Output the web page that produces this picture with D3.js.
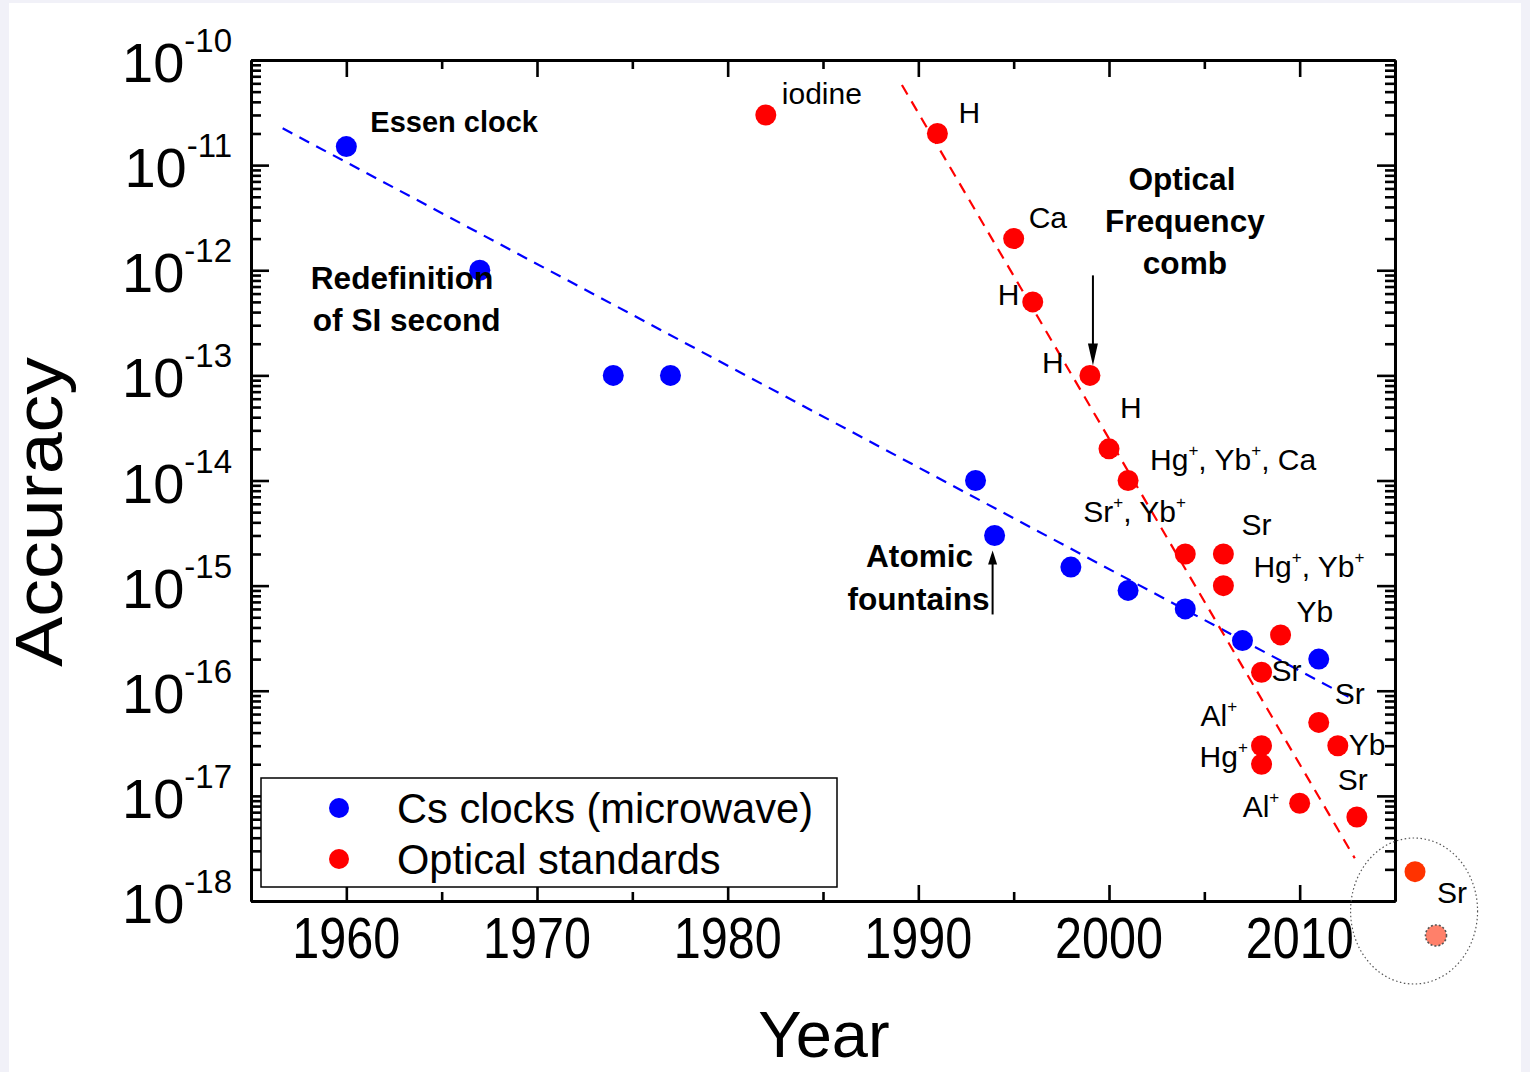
<!DOCTYPE html>
<html>
<head>
<meta charset="utf-8">
<script src="https://cdn.jsdelivr.net/npm/d3@7"></script>
<style>
  html, body { margin: 0; padding: 0; background: #f1f1f8; }
  svg { display: block; }
  text { font-family: "Liberation Sans", Arial, Helvetica, sans-serif; fill: #000; }
</style>
</head>
<body>
<svg id="chart" width="1530" height="1072"></svg>
<script>
// ---------------- DATA ----------------
const csYears = [1960, 1967, 1974, 1977, 1993, 1994, 1998, 2001, 2004, 2007, 2011];
const csAccuracy = [1.5e-11, 1e-12, 1e-13, 1e-13, 1e-14, 3e-15, 1.5e-15, 9e-16, 6e-16, 3e-16, 2e-16];

const opticalYears = [1982, 1991, 1995, 1996, 1999, 2000, 2001, 2004, 2006, 2006, 2009, 2008, 2011, 2012, 2008, 2008, 2010, 2013];
const opticalAccuracy = [3e-11, 2e-11, 2e-12, 5e-13, 1e-13, 2e-14, 1e-14, 2e-15, 2e-15, 1e-15, 3.4e-16, 1.5e-16, 5e-17, 3e-17, 3e-17, 2e-17, 8.5e-18, 6.3e-18];
const opticalLabels = ["iodine", "H", "Ca", "H", "H", "H", "Hg^+, Yb^+, Ca", "Sr^+, Yb^+", "Sr", "Hg^+, Yb^+", "Yb", "Sr", "Sr", "Yb", "Al^+", "Hg^+", "Al^+", "Sr"];

const newYears = [2016.05];
const newAccuracy = [1.9e-18];
const newLabels = ["Sr"];
const projectedYears = [2017.15];
const projectedAccuracy = [4.7e-19];

const csTrendYears = [1956.66, 2012.72];
const csTrendAccuracy = [2.24e-11, 8.45e-17];
const opticalTrendYears = [1989.14, 2012.89];
const opticalTrendAccuracy = [5.78e-11, 2.55e-18];

const xMajorTicks = [1960, 1970, 1980, 1990, 2000, 2010];
const xMinorTicks = [1965, 1975, 1985, 1995, 2005];
const yMajorExponents = [-10, -11, -12, -13, -14, -15, -16, -17, -18];

const legendNames = ["Cs clocks (microwave)", "Optical standards"];
const xTitle = "Year";
const yTitle = "Accuracy";

// ---------------- LAYOUT ----------------
const svg = d3.select("#chart");
const L = 251, R = 1395, T = 60, B = 901;
const blue = "#0000ff", red = "#ff0000";

svg.append("rect").attr("x", 9).attr("y", 3).attr("width", 1512).attr("height", 1069).attr("fill", "#fff");

const x = d3.scaleLinear().domain([1955, 2015]).range([L, R]);
const y = d3.scaleLog().domain([1e-18, 1e-10]).range([B, T]);

const yMajor = yMajorExponents.map(e => Math.pow(10, e));
const yMinor = [];
for (let e = -18; e < -10; e++) for (let m = 2; m <= 9; m++) yMinor.push(m * Math.pow(10, e));

function styleAxis(g) {
  g.selectAll("path.domain").attr("stroke", "#000").attr("stroke-width", 3);
  g.selectAll(".tick line").attr("stroke", "#000").attr("stroke-width", 2.6);
  g.selectAll(".tick text").remove();
}

// minor ticks
svg.append("g").attr("transform", `translate(${L},0)`)
  .call(d3.axisLeft(y).tickValues(yMinor).tickSize(-10).tickSizeOuter(0).tickFormat("")).call(styleAxis);
svg.append("g").attr("transform", `translate(${R},0)`)
  .call(d3.axisRight(y).tickValues(yMinor).tickSize(-10).tickSizeOuter(0).tickFormat("")).call(styleAxis);
svg.append("g").attr("transform", `translate(0,${B})`)
  .call(d3.axisBottom(x).tickValues(xMinorTicks).tickSize(-9).tickSizeOuter(0).tickFormat("")).call(styleAxis);
svg.append("g").attr("transform", `translate(0,${T})`)
  .call(d3.axisTop(x).tickValues(xMinorTicks).tickSize(-9).tickSizeOuter(0).tickFormat("")).call(styleAxis);
// major ticks
svg.append("g").attr("transform", `translate(${L},0)`)
  .call(d3.axisLeft(y).tickValues(yMajor).tickSize(-18).tickSizeOuter(0).tickFormat("")).call(styleAxis);
svg.append("g").attr("transform", `translate(${R},0)`)
  .call(d3.axisRight(y).tickValues(yMajor).tickSize(-18).tickSizeOuter(0).tickFormat("")).call(styleAxis);
svg.append("g").attr("transform", `translate(0,${B})`)
  .call(d3.axisBottom(x).tickValues(xMajorTicks).tickSize(-16).tickSizeOuter(0).tickFormat("")).call(styleAxis);
svg.append("g").attr("transform", `translate(0,${T})`)
  .call(d3.axisTop(x).tickValues(xMajorTicks).tickSize(-17).tickSizeOuter(0).tickFormat("")).call(styleAxis);

// y tick labels 10^e
const yl = svg.append("g").selectAll("text").data(yMajorExponents).join("text")
  .attr("x", 232).attr("y", e => y(Math.pow(10, e)) + 22)
  .attr("text-anchor", "end");
yl.append("tspan").attr("font-size", 56).text("10");
yl.append("tspan").attr("font-size", 33).attr("dy", -30).text(e => String(e));

// x tick labels
svg.append("g").selectAll("text").data(xMajorTicks).join("text")
  .attr("x", d => x(d)).attr("y", 958).attr("text-anchor", "middle")
  .attr("font-size", 57).attr("textLength", 108).attr("lengthAdjust", "spacingAndGlyphs")
  .text(d => d);

// axis titles
svg.append("text").attr("x", 824).attr("y", 1057).attr("text-anchor", "middle").attr("font-size", 65).text(xTitle);
svg.append("text").attr("transform", "translate(62,512) rotate(-90)").attr("text-anchor", "middle")
  .attr("font-size", 66).attr("textLength", 310).attr("lengthAdjust", "spacingAndGlyphs").text(yTitle);

// trend lines
const line = d3.line().x(d => x(d[0])).y(d => y(d[1]));
svg.append("path").datum(d3.zip(csTrendYears, csTrendAccuracy)).attr("d", line)
  .attr("fill", "none").attr("stroke", blue).attr("stroke-width", 2.2).attr("stroke-dasharray", "11,8");
svg.append("path").datum(d3.zip(opticalTrendYears, opticalTrendAccuracy)).attr("d", line)
  .attr("fill", "none").attr("stroke", red).attr("stroke-width", 2.2).attr("stroke-dasharray", "11,8");

// points
const R_PT = 10.5;
svg.append("g").selectAll("circle").data(d3.zip(csYears, csAccuracy)).join("circle")
  .attr("cx", d => x(d[0])).attr("cy", d => y(d[1])).attr("r", R_PT).attr("fill", blue);
svg.append("g").selectAll("circle").data(d3.zip(opticalYears, opticalAccuracy)).join("circle")
  .attr("cx", d => x(d[0])).attr("cy", d => y(d[1])).attr("r", R_PT).attr("fill", red);

// outside-of-axis newer results
svg.append("ellipse").attr("cx", x(2016)).attr("cy", 911).attr("rx", 63.5).attr("ry", 73)
  .attr("fill", "none").attr("stroke", "#555").attr("stroke-width", 1.2).attr("stroke-dasharray", "1.5,2.5");
svg.append("g").selectAll("circle").data(d3.zip(newYears, newAccuracy)).join("circle")
  .attr("cx", d => x(d[0])).attr("cy", d => y(d[1])).attr("r", R_PT).attr("fill", "#ff3300");
svg.append("g").selectAll("circle").data(d3.zip(projectedYears, projectedAccuracy)).join("circle")
  .attr("cx", d => x(d[0])).attr("cy", d => y(d[1])).attr("r", 10.5).attr("fill", "#ff806a")
  .attr("stroke", "#555").attr("stroke-width", 1.6).attr("stroke-dasharray", "2,2");

// labels with superscript "+"
function richLabel(sel, str, size) {
  const parts = str.split("^+");
  parts.forEach((p, i) => {
    sel.append("tspan").attr("font-size", size).text(p).attr("dy", i > 0 ? 14 : null);
    if (i < parts.length - 1) sel.append("tspan").attr("font-size", 17).attr("dy", -14).text("+");
  });
}
const opticalOffsets = [[16,-11],[21,-10],[15,-11],[-35,3],[-48,-2],[11,-31],[22,-11],[-102,-32],[18,-19],[30,-9],[16,-13],[10,9],[16,-18],[11,9],[-61,-20],[-62,3],[-57,14],[-19,-27]];
opticalLabels.forEach((lab, i) => {
  const t = svg.append("text")
    .attr("x", x(opticalYears[i]) + opticalOffsets[i][0])
    .attr("y", y(opticalAccuracy[i]) + opticalOffsets[i][1]);
  richLabel(t, lab, 30);
});
newLabels.forEach((lab, i) => {
  const t = svg.append("text").attr("x", x(newYears[i]) + 22).attr("y", y(newAccuracy[i]) + 31);
  richLabel(t, lab, 30);
});

// bold annotations
function bold(xp, yp, txt, size, anchor) {
  svg.append("text").attr("x", xp).attr("y", yp).attr("font-size", size).attr("font-weight", "bold")
    .attr("text-anchor", anchor || "start").text(txt);
}
const pEssen = [x(csYears[0]), y(csAccuracy[0])];
bold(pEssen[0] + 24, pEssen[1] - 15, "Essen clock", 29);
const pSI = [x(csYears[1]), y(csAccuracy[1])];
bold(pSI[0] - 169, pSI[1] + 19, "Redefinition", 31.6);
bold(pSI[0] - 167, pSI[1] + 61, "of SI second", 31.6);
const pFount = [x(csYears[5]), y(csAccuracy[5])];
bold(pFount[0] - 75, pFount[1] + 32, "Atomic", 31.6, "middle");
bold(pFount[0] - 76, pFount[1] + 75, "fountains", 31.6, "middle");
const pComb = [x(opticalYears[4]), y(opticalAccuracy[4])];
bold(pComb[0] + 92, pComb[1] - 185, "Optical", 31.6, "middle");
bold(pComb[0] + 95, pComb[1] - 143, "Frequency", 31.6, "middle");
bold(pComb[0] + 95, pComb[1] - 101, "comb", 31.6, "middle");

// arrows
function arrow(x0, y0, x1, y1, headLen, headW) {
  const dir = Math.sign(y1 - y0);
  svg.append("line").attr("x1", x0).attr("y1", y0).attr("x2", x1).attr("y2", y1 - dir * headLen * 0.6)
    .attr("stroke", "#000").attr("stroke-width", 2);
  svg.append("path").attr("d", `M${x1},${y1} L${x1 - headW / 2},${y1 - dir * headLen} L${x1 + headW / 2},${y1 - dir * headLen} Z`)
    .attr("fill", "#000");
}
arrow(pComb[0] + 3, pComb[1] - 100, pComb[0] + 3, pComb[1] - 10, 22, 10);
arrow(pFount[0] - 2, pFount[1] + 79, pFount[0] - 2, pFount[1] + 15, 14, 9);

// legend
const lg = svg.append("g");
lg.append("rect").attr("x", 261).attr("y", 778).attr("width", 576).attr("height", 109)
  .attr("fill", "#fff").attr("stroke", "#000").attr("stroke-width", 1.5);
[blue, red].forEach((c, i) => {
  lg.append("circle").attr("cx", 339).attr("cy", 808 + i * 51).attr("r", 10).attr("fill", c);
  lg.append("text").attr("x", 397).attr("y", 823 + i * 51).attr("font-size", 41.6).text(legendNames[i]);
});
</script>
</body>
</html>
